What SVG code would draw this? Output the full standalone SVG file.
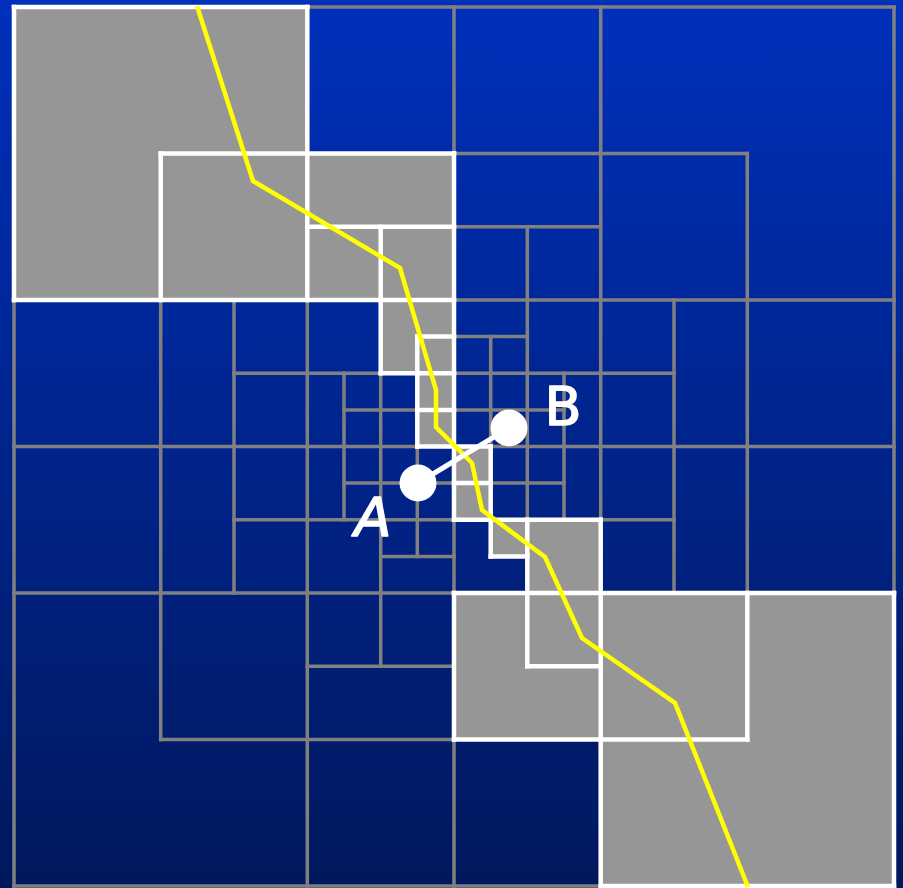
<svg xmlns="http://www.w3.org/2000/svg" width="903" height="888" viewBox="0 0 903 888">
<defs>
<linearGradient id="bg" x1="0" y1="0" x2="0" y2="1">
<stop offset="0" stop-color="#0030BC"/>
<stop offset="1" stop-color="#00185C"/>
</linearGradient>
<style>
.cell{fill:#969696;stroke:none}
.g{stroke:#808080;stroke-width:3.5;stroke-linecap:square;fill:none}
.w{stroke:#FFFFFF;stroke-width:4.5;stroke-linecap:square;fill:none}
.path{stroke:#FFFF00;stroke-width:4.5;fill:none;stroke-linejoin:miter}
.lbl{fill:#FFFFFF;stroke:#FFFFFF;stroke-width:1.5;stroke-linejoin:round;font-family:"DejaVu Sans","Liberation Sans",sans-serif;font-size:54px;text-anchor:middle}
</style>
</defs>
<rect x="0" y="0" width="903" height="888" fill="url(#bg)"/>
<g id="cells">
<rect class="cell" x="14" y="7" width="293.3" height="293"/>
<rect class="cell" x="307.3" y="153.5" width="146.7" height="146.5"/>
<rect class="cell" x="380.7" y="300" width="73.3" height="73.3"/>
<rect class="cell" x="417.3" y="373.3" width="36.7" height="73.2"/>
<rect class="cell" x="454" y="446.5" width="36.7" height="73.3"/>
<rect class="cell" x="490.7" y="519.8" width="36.6" height="36.6"/>
<rect class="cell" x="527.3" y="519.8" width="73.4" height="73.2"/>
<rect class="cell" x="454" y="593" width="293.3" height="146.5"/>
<rect class="cell" x="600.7" y="593" width="293.3" height="293"/>
</g>
<g id="grid-lines">
<path class="g" d="M307.3 7H894 M454 153.5H747.3 M454 226.8H600.7 M454 300H894 M454 336.6H527.3 M234 373.3H380.7 M454 373.3H674 M344 409.9H417.3 M454 409.9H564 M14 446.5H417.3 M490.7 446.5H894 M344 483.1H454 M490.7 483.1H564 M234 519.8H454 M600.7 519.8H674 M380.7 556.4H454 M14 593H454 M307.3 666.3H454 M160.7 739.5H454 M14 886H600.7"/>
<path class="g" d="M14 300V886 M160.7 300V739.5 M234 300V593 M307.3 300V886 M344 373.3V519.8 M380.7 373.3V666.3 M417.3 446.5V556.4 M454 7V153.5 M454 519.8V593 M454 739.5V886 M490.7 336.6V446.5 M527.3 226.8V519.8 M564 373.3V519.8 M600.7 7V519.8 M674 300V593 M747.3 153.5V593 M894 7V593"/>
</g>
<g id="highlight-lines">
<path class="w" d="M14 7H307.3 M160.7 153.5H454 M307.3 226.8H454 M14 300H454 M417.3 336.6H454 M380.7 373.3H454 M417.3 409.9H454 M417.3 446.5H490.7 M454 483.1H490.7 M454 519.8H600.7 M490.7 556.4H527.3 M454 593H894 M527.3 666.3H600.7 M454 739.5H747.3 M600.7 886H894"/>
<path class="w" d="M14 7V300 M160.7 153.5V300 M307.3 7V300 M380.7 226.8V373.3 M417.3 336.6V446.5 M454 153.5V519.8 M454 593V739.5 M490.7 446.5V556.4 M527.3 519.8V666.3 M600.7 519.8V886 M747.3 593V739.5 M894 593V886"/>
</g>
<g id="route">
<polyline class="path" points="197,6 253,181 400,268 436,390 436,427 472,463 482,510 545,557 582,638 675,703 748,887"/>
</g>
<g id="connectors">
<line x1="418" y1="483" x2="509" y2="428" stroke="#FFFFFF" stroke-width="5"/>
</g>
<g id="node-A">
<circle cx="418" cy="483" r="18.5" fill="#FFFFFF"/>
<text class="lbl" x="373" y="536" font-style="italic">A</text>
</g>
<g id="node-B">
<circle cx="509" cy="428" r="18.5" fill="#FFFFFF"/>
<text class="lbl" x="563" y="425">B</text>
</g>
</svg>
